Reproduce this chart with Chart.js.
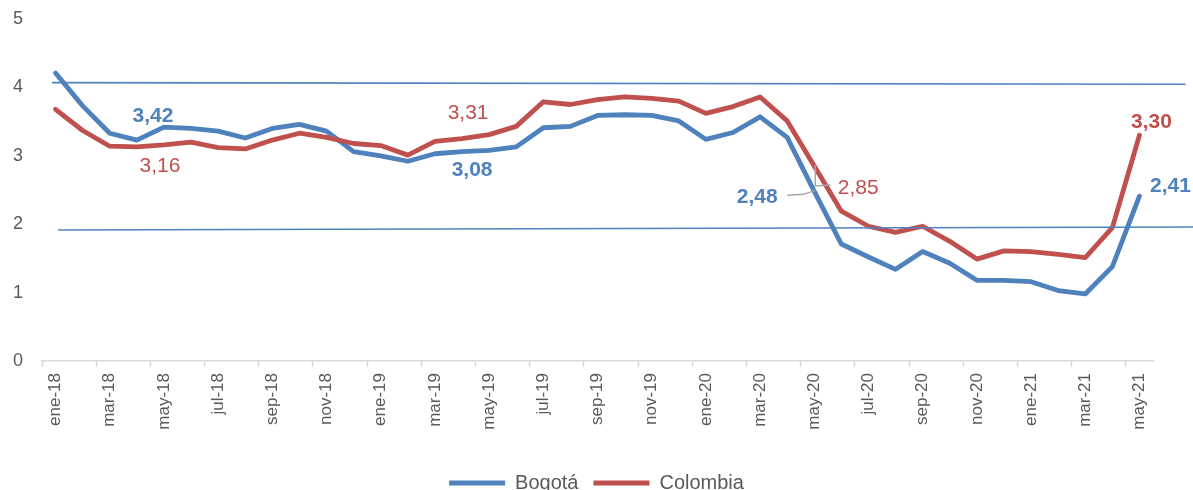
<!DOCTYPE html>
<html><head><meta charset="utf-8">
<script src="https://cdn.jsdelivr.net/npm/chart.js@4.4.0/dist/chart.umd.min.js"></script>
<style>html,body{margin:0;padding:0;overflow:hidden;background:#fff;width:1193px;height:490px}</style>
</head><body>
<canvas id="c" width="1193" height="503"></canvas>
<script>
const categories = ['ene-18','feb-18','mar-18','abr-18','may-18','jun-18','jul-18','ago-18','sep-18','oct-18','nov-18','dic-18',
 'ene-19','feb-19','mar-19','abr-19','may-19','jun-19','jul-19','ago-19','sep-19','oct-19','nov-19','dic-19',
 'ene-20','feb-20','mar-20','abr-20','may-20','jun-20','jul-20','ago-20','sep-20','oct-20','nov-20','dic-20',
 'ene-21','feb-21','mar-21','abr-21','may-21'];
const bogota = [4.21,3.73,3.33,3.23,3.42,3.40,3.36,3.26,3.40,3.46,3.36,3.06,3.00,2.92,3.03,3.06,3.08,3.13,3.41,3.43,3.59,3.60,3.59,3.51,3.24,3.34,3.57,3.27,2.48,1.71,1.52,1.34,1.60,1.43,1.18,1.18,1.16,1.03,0.98,1.38,2.41];
const colombia = [3.68,3.37,3.14,3.13,3.16,3.20,3.12,3.10,3.23,3.33,3.27,3.18,3.15,3.01,3.21,3.25,3.31,3.43,3.79,3.75,3.82,3.86,3.84,3.80,3.62,3.72,3.86,3.51,2.85,2.19,1.97,1.88,1.97,1.75,1.49,1.61,1.60,1.56,1.51,1.95,3.30];
const yTicks = [0,1,2,3,4,5];
// target range reference lines (values at their left / right ends)
const upperRange = [4.07, 4.045];
const lowerRange = [1.915, 1.96];
const seriesNames = ['Bogotá','Colombia'];

const BLUE = '#4F81BD', RED = '#C0504D', GREY = '#595959';
const FONT = "'Liberation Sans', Arial, sans-serif";
Chart.defaults.font.family = FONT;

// label placement (dataset index, category index, pixel offsets)
const labelSpecs = [
  {ds:0, i:4, dx:-11, dy:-11, bold:true},
  {ds:1, i:4, dx:-4, dy:21, bold:false},
  {ds:1, i:16, dx:-21, dy:-21, bold:false},
  {ds:0, i:16, dx:-17, dy:20, bold:true},
  {ds:0, i:28, dx:-57, dy:6, bold:true, leader:[[-27,4],[-11,3],[1,-1]]},
  {ds:1, i:28, dx:44, dy:22, bold:false, leader:[[1,-1],[1,20],[16,19]]},
  {ds:1, i:40, dx:12, dy:-13, bold:true},
  {ds:0, i:40, dx:31, dy:-10, bold:true}
];

const overlay = {
  id:'overlay',
  afterDatasetsDraw(chart){
    const {ctx, scales:{x, y}} = chart;
    ctx.save();
    ctx.strokeStyle = BLUE; ctx.lineWidth = 1.6;
    [[upperRange, -0.13, 41.7],[lowerRange, 0.09, 42.05]].forEach(([vals, a, b]) => {
      ctx.beginPath();
      ctx.moveTo(x.getPixelForValue(a), y.getPixelForValue(vals[0]));
      ctx.lineTo(x.getPixelForValue(b), y.getPixelForValue(vals[1]));
      ctx.stroke();
    });
    labelSpecs.forEach(s => {
      const meta = chart.getDatasetMeta(s.ds);
      const pt = meta.data[s.i];
      const val = chart.data.datasets[s.ds].data[s.i];
      const color = s.ds === 0 ? BLUE : RED;
      if (s.leader) {
        ctx.strokeStyle = '#A6A6A6'; ctx.lineWidth = 1.5;
        ctx.beginPath();
        s.leader.forEach(([lx, ly], k) => {
          const px = pt.x + lx, py = pt.y + ly;
          if (k === 0) ctx.moveTo(px, py); else ctx.lineTo(px, py);
        });
        ctx.stroke();
      }
      ctx.fillStyle = color;
      ctx.font = (s.bold ? 'bold ' : '') + '21px ' + FONT;
      ctx.textAlign = 'center'; ctx.textBaseline = 'middle';
      ctx.fillText(val.toFixed(2).replace('.', ','), pt.x + s.dx, pt.y + s.dy);
    });
    ctx.restore();
  }
};

new Chart(document.getElementById('c'), {
  type: 'line',
  data: {
    labels: categories,
    datasets: [
      {label: seriesNames[0], data: bogota, borderColor: BLUE, backgroundColor: BLUE, borderWidth: 4.8, pointRadius: 0, tension: 0, borderJoinStyle: 'round', borderCapStyle: 'round', order: 1},
      {label: seriesNames[1], data: colombia, borderColor: RED, backgroundColor: RED, borderWidth: 4.8, pointRadius: 0, tension: 0, borderJoinStyle: 'round', borderCapStyle: 'round', order: 0}
    ]
  },
  options: {
    responsive: false,
    animation: false,
    layout: {padding: {top: 19, right: 0, left: 0, bottom: 0}},
    plugins: {
      tooltip: {enabled: false},
      legend: {
        position: 'bottom',
        labels: {
          font: {size: 20}, color: GREY, boxWidth: 56, boxHeight: 5, padding: 15,
          sort: (a, b) => a.datasetIndex - b.datasetIndex,
          generateLabels: (chart) => chart.data.datasets.map((d, i) => ({
            text: d.label, fillStyle: d.borderColor, strokeStyle: d.borderColor, lineWidth: 0,
            datasetIndex: i, hidden: false, fontColor: GREY
          }))
        }
      }
    },
    scales: {
      x: {
        offset: true,
        grid: {display: true, drawOnChartArea: false, drawTicks: true, tickLength: 6, offset: true,
          tickColor: (c) => (c.index % 2 === 0 ? '#D9D9D9' : 'rgba(0,0,0,0)'), tickWidth: 1.5},
        border: {display: true, color: '#D9D9D9', width: 1.5},
        ticks: {autoSkip: false, maxRotation: 90, minRotation: 90, color: GREY, font: {size: 17}, padding: 6,
          callback: function(v, i){ return i % 2 === 0 ? categories[i] : ''; }},
        afterFit: (s) => { s.height = 97; }
      },
      y: {
        min: 0, max: 5,
        afterBuildTicks: (s) => { s.ticks = yTicks.map(v => ({value: v})); },
        grid: {display: true, drawOnChartArea: false, drawTicks: true, tickLength: 19, tickColor: 'rgba(0,0,0,0)'},
        border: {display: false},
        ticks: {color: GREY, font: {size: 18}, padding: 0},
        afterFit: (s) => { s.width = 42; }
      },
      yRight: {
        position: 'right', min: 0, max: 5,
        grid: {display: false, drawTicks: false},
        border: {display: false},
        ticks: {display: false},
        afterFit: (s) => { s.width = 40; }
      }
    }
  },
  plugins: [overlay]
});
</script></body></html>
